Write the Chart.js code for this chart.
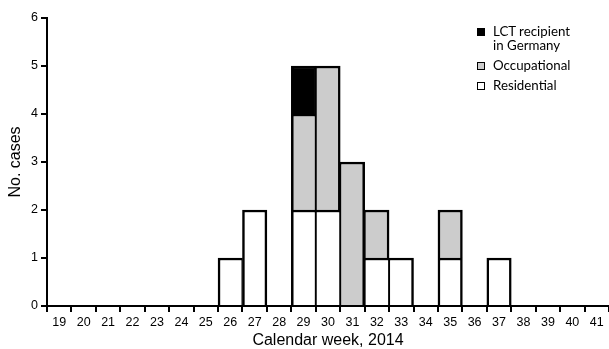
<!DOCTYPE html>
<html lang="en">
<head>
    <meta charset="UTF-8">
    <title>Cases by calendar week, 2014</title>
    <script src="https://cdn.jsdelivr.net/npm/chart.js"></script>
    <style>
        body { margin: 0; background: #fff; }
        .wrap { position: relative; width: 609px; height: 349px; }
        #legend {
            position: absolute; left: 477px; top: 24px;
            font-family: Lato, "Open Sans", sans-serif; font-size: 13.3px; color: #000;
        }
        .item { display: flex; align-items: flex-start; margin-bottom: 6px; line-height: 14px; }
        .box { width: 6px; height: 6px; border: 1px solid #000; margin: 4px 8px 0 0; flex: none; }
    </style>
</head>
<body>
<div class="wrap">
    <canvas id="chart" width="609" height="349"></canvas>
    <div id="legend"></div>
</div>
<script>
    // weeks 19..41
    const weeks = ['19','20','21','22','23','24','25','26','27','28','29','30','31','32','33','34','35','36','37','38','39','40','41'];
    const residential  = [null,null,null,null,null,null,null,1,2,null,2,2,null,1,1,null,1,null,1,null,null,null,null];
    const occupational = [null,null,null,null,null,null,null,null,null,null,2,3,3,1,null,null,1,null,null,null,null,null,null];
    const lctGermany   = [null,null,null,null,null,null,null,null,null,null,1,null,null,null,null,null,null,null,null,null,null,null,null];
    const yTicks = [0, 1, 2, 3, 4, 5, 6];

    const stackOrder = [residential, occupational, lctGermany];
    const total = i => (i < 0 || i >= weeks.length) ? 0 : stackOrder.reduce((s, a) => s + (a[i] || 0), 0);

    // thinner side borders where a neighbouring bar shares the edge, so shared lines don't look doubled
    function borderFor(ctx) {
        const i = ctx.dataIndex;
        let segTop = 0;
        for (let d = 0; d <= ctx.datasetIndex; d++) segTop += stackOrder[d][i] || 0;
        return {
            top: 2.5, bottom: 0,
            left: total(i - 1) >= segTop ? 1.3 : 2.5,
            right: total(i + 1) >= segTop ? 1.3 : 2.5
        };
    }

    function bar(label, data, color) {
        return {
            label: label, data: data, backgroundColor: color,
            borderColor: '#000', borderWidth: borderFor,
            categoryPercentage: 1, barPercentage: 1
        };
    }

    const chart = new Chart(document.getElementById('chart'), {
        type: 'bar',
        data: {
            labels: weeks,
            datasets: [
                bar('Residential', residential, '#ffffff'),
                bar('Occupational', occupational, '#cccccc'),
                bar('LCT recipient\nin Germany', lctGermany, '#000000')
            ]
        },
        options: {
            responsive: false,
            animation: false,
            layout: { padding: { top: 18, right: 0, left: 0, bottom: 0 } },
            plugins: { legend: { display: false }, tooltip: { enabled: false } },
            scales: {
                x: {
                    stacked: true,
                    afterFit: s => { s.height = 43; },
                    border: { color: '#000', width: 2 },
                    grid: { offset: true, drawOnChartArea: false, color: '#000', lineWidth: 2, tickLength: 6 },
                    ticks: { color: '#000', padding: 3, maxRotation: 0, autoSkip: false,
                             font: { family: '"Liberation Sans", Arial, sans-serif', size: 12.5 } },
                    title: { display: true, text: 'Calendar week, 2014', color: '#000',
                             padding: { top: 0, bottom: -1 },
                             font: { family: '"Liberation Sans", Arial, sans-serif', size: 16 } }
                },
                y: {
                    stacked: true,
                    min: 0, max: 6,
                    afterFit: s => { s.width = 47; },
                    afterBuildTicks: s => { s.ticks = yTicks.map(v => ({ value: v })); },
                    border: { color: '#000', width: 2 },
                    grid: { drawOnChartArea: false, color: '#000', lineWidth: 2, tickLength: 6 },
                    ticks: { color: '#000', padding: 3,
                             font: { family: '"Liberation Sans", Arial, sans-serif', size: 12.5 } },
                    title: { display: true, text: 'No. cases', color: '#000',
                             padding: { top: 6, bottom: 0 },
                             font: { family: '"Liberation Sans", Arial, sans-serif', size: 16 } }
                }
            }
        }
    });

    // legend, top-down in reverse stack order
    const legend = document.getElementById('legend');
    chart.data.datasets.slice().reverse().forEach(ds => {
        const item = document.createElement('div');
        item.className = 'item';
        const box = document.createElement('span');
        box.className = 'box';
        box.style.background = ds.backgroundColor;
        const txt = document.createElement('span');
        txt.innerHTML = ds.label.replace('\n', '<br>');
        item.appendChild(box);
        item.appendChild(txt);
        legend.appendChild(item);
    });
</script>
</body>
</html>
